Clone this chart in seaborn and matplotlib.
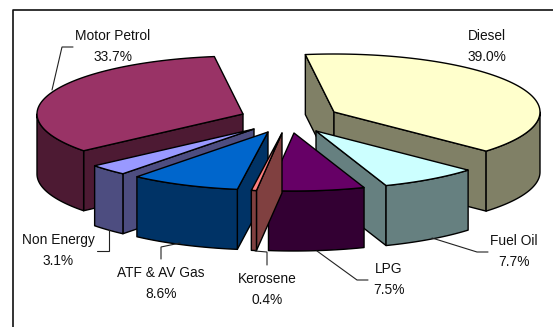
import numpy as np
import matplotlib
matplotlib.use("Agg")
import matplotlib.pyplot as plt
from matplotlib.patches import Polygon
import seaborn as sns

# Petroleum product shares, clockwise from the top of the pie
categories = ["Diesel", "Fuel Oil", "LPG", "Kerosene", "ATF & AV Gas", "Non Energy", "Motor Petrol"]
shares = [39.0, 7.7, 7.5, 0.4, 8.6, 3.1, 33.7]

top_colors = ["#FFFFCC", "#CCFFFF", "#660066", "#FF8080", "#0066CC", "#9999FF", "#993366"]

# Layout of the exploded pie, in figure pixels
START_ANGLE = 98.0
RX, RY, DEPTH = 206.0, 58.0, 60.0
apex = {
    "Diesel": (334, 112), "Fuel Oil": (316, 131), "LPG": (294, 133), "Kerosene": (282, 133),
    "ATF & AV Gas": (268, 132), "Non Energy": (254, 129), "Motor Petrol": (243, 114),
}
draw_order = ["Motor Petrol", "Diesel", "Non Energy", "Fuel Oil", "ATF & AV Gas", "LPG", "Kerosene"]
label_at = {
    "Diesel": (487, 46.5), "Fuel Oil": (514, 251.5), "LPG": (389, 279.5), "Kerosene": (267, 289.5),
    "ATF & AV Gas": (161, 283.5), "Non Energy": (58, 250.5), "Motor Petrol": (113, 46.5),
}
leaders = {
    "Motor Petrol": [(52, 90), (62, 47), (73, 47)],
    "Non Energy": [(97, 251), (109, 251), (109, 230)],
    "ATF & AV Gas": [(161, 259), (161, 247), (180, 243)],
    "Kerosene": [(255, 251), (267, 252), (267, 265)],
    "LPG": [(317, 251), (357, 280), (368, 280)],
    "Fuel Oil": [(432, 238), (477, 252), (488, 252)],
}

sns.set_theme(style="white")
plt.rcParams["font.family"] = ["Liberation Sans", "DejaVu Sans"]

W, H = 553, 327
fig = plt.figure(figsize=(W / 100, H / 100), dpi=100, facecolor="white")
ax = fig.add_axes([0, 0, 1, 1])
ax.set_xlim(0, W)
ax.set_ylim(H, 0)
ax.axis("off")

# Chart frame
ax.plot([13, 13, W + 5], [H + 5, 10, 10], color="#111111", lw=1.2, clip_on=False, zorder=0.5)


def rim_point(center, deg):
    t = np.radians(deg)
    return center[0] + RX * np.cos(t), center[1] - RY * np.sin(t)


def face(points, color):
    ax.add_patch(Polygon(points, closed=True, facecolor=color, edgecolor="black",
                         lw=1.0, joinstyle="round"))


# Angular span of each slice follows from its share
spans = {}
angle = START_ANGLE
for name, share in zip(categories, shares):
    end = angle - share * 3.6
    spans[name] = (angle, end)
    angle = end

palette = dict(zip(categories, sns.color_palette(top_colors)))

for name in draw_order:
    high, low = spans[name]
    c = apex[name]
    top = palette[name]
    side = tuple(v * 0.5 for v in top)

    # Cut faces that turn toward the viewer
    for deg, visible in ((high, np.cos(np.radians(high)) < 0), (low, np.cos(np.radians(low)) > 0)):
        if visible:
            p = rim_point(c, deg)
            face([c, p, (p[0], p[1] + DEPTH), (c[0], c[1] + DEPTH)], side)

    # Outer wall: only the front half of the ellipse shows
    k = np.floor((high + 180) / 360)
    front_hi, front_lo = min(high - 360 * k, 0), max(low - 360 * k, -180)
    if front_hi > front_lo:
        ts = np.linspace(front_hi, front_lo, 40)
        rim = [rim_point(c, t) for t in ts]
        face(rim + [(x, y + DEPTH) for x, y in reversed(rim)], side)

    # Top surface
    ts = np.linspace(high, low, 90)
    face([c] + [rim_point(c, t) for t in ts], top)

# Leader lines
for name, pts in leaders.items():
    xs, ys = zip(*pts)
    ax.plot(xs, ys, color="#222222", lw=0.8, solid_joinstyle="miter")

# Category and percentage labels
for name, share in zip(categories, shares):
    x, y = label_at[name]
    ax.text(x, y, f"{name}\n{share:.1f}%", ha="center", va="center", fontsize=9.9,
            color="#111111", linespacing=1.72)

fig.savefig("out.png", dpi=100, facecolor="white")
